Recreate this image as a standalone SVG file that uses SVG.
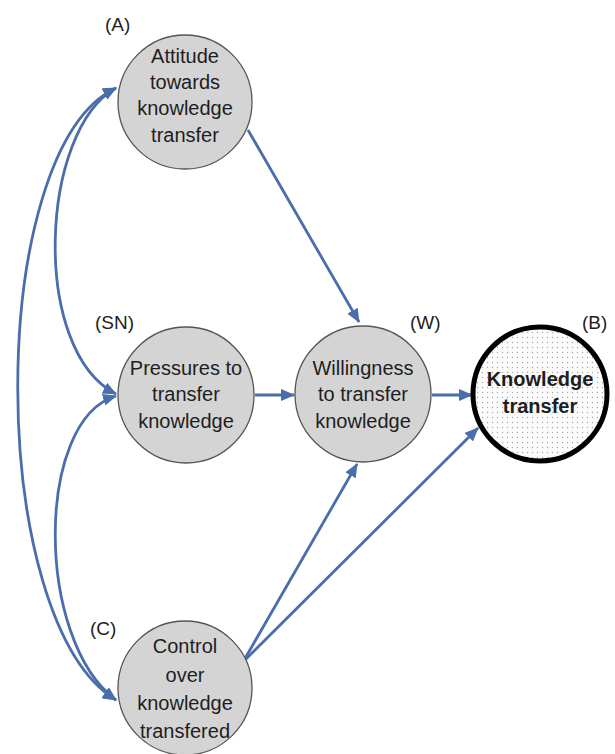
<svg xmlns="http://www.w3.org/2000/svg" width="615" height="754" viewBox="0 0 615 754">
<style>
.node{fill:#d4d4d4;stroke:#555;stroke-width:1.3}
.t{font-family:"Liberation Sans",Arial,sans-serif;font-size:20px;fill:#1e1e1e;text-anchor:middle}
.lbl{font-family:"Liberation Sans",Arial,sans-serif;font-size:19px;fill:#1e1e1e}
.c{fill:none;stroke:#4a6eab;stroke-width:2.8}
</style>
<defs>
<marker id="ah" viewBox="0 0 14 12" refX="13" refY="6" markerWidth="14" markerHeight="12" markerUnits="userSpaceOnUse" orient="auto-start-reverse">
<path d="M0,0 L14,6 L0,12 Z" fill="#4a6eab"/>
</marker>
<pattern id="dots" width="5" height="5" patternUnits="userSpaceOnUse">
<rect width="5" height="5" fill="#fbfbfb"/>
<circle cx="2.5" cy="2.5" r="0.7" fill="#a8a8a8"/>
</pattern>
</defs>
<g id="connectors">
<path class="c" d="M248,130 L359,322" marker-end="url(#ah)"/>
<path class="c" d="M255,395 L294,395" marker-end="url(#ah)"/>
<path class="c" d="M432,395 L472,395" marker-end="url(#ah)"/>
<path class="c" d="M243,662 L357,464" marker-end="url(#ah)"/>
<path class="c" d="M243,662 L478,428" marker-end="url(#ah)"/>
<path class="c" d="M116,88 C40,130 30,350 116,394" marker-start="url(#ah)" marker-end="url(#ah)"/>
<path class="c" d="M116,88 C-15,150 -15,620 116,700" marker-start="url(#ah)" marker-end="url(#ah)"/>
<path class="c" d="M116,396 C35,420 35,640 116,700" marker-start="url(#ah)" marker-end="url(#ah)"/>
</g>
<g id="A">
<circle class="node" cx="185" cy="102" r="67"/>
<text class="lbl" x="105" y="31">(A)</text>
<text class="t" x="185" y="63">Attitude</text>
<text class="t" x="185" y="89">towards</text>
<text class="t" x="185" y="115">knowledge</text>
<text class="t" x="185" y="142">transfer</text>
</g>
<g id="SN">
<circle class="node" cx="186" cy="395" r="68"/>
<text class="lbl" x="95" y="329">(SN)</text>
<text class="t" x="186" y="375">Pressures to</text>
<text class="t" x="186" y="401">transfer</text>
<text class="t" x="186" y="428">knowledge</text>
</g>
<g id="W">
<circle class="node" cx="363" cy="394" r="68"/>
<text class="lbl" x="410" y="329">(W)</text>
<text class="t" x="363" y="375">Willingness</text>
<text class="t" x="363" y="401">to transfer</text>
<text class="t" x="363" y="428">knowledge</text>
</g>
<g id="B">
<circle cx="540" cy="394" r="67" fill="url(#dots)" stroke="#000" stroke-width="5"/>
<text class="lbl" x="582" y="329">(B)</text>
<text class="t" x="540" y="386" font-weight="bold" font-size="21">Knowledge</text>
<text class="t" x="540" y="413" font-weight="bold" font-size="21">transfer</text>
</g>
<g id="C">
<circle class="node" cx="185" cy="688" r="67"/>
<text class="lbl" x="90" y="635">(C)</text>
<text class="t" x="185" y="653">Control</text>
<text class="t" x="185" y="682">over</text>
<text class="t" x="185" y="710">knowledge</text>
<text class="t" x="185" y="738">transfered</text>
</g>
</svg>
